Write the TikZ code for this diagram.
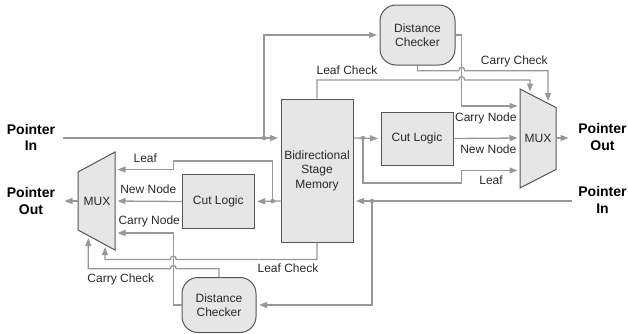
\documentclass[tikz,border=0pt]{standalone}
\usepackage{fontspec}
\setmainfont{Liberation Sans}
\usetikzlibrary{arrows.meta}
\definecolor{linec}{RGB}{152,152,152}
\definecolor{boxfill}{RGB}{230,230,230}
\definecolor{boxline}{RGB}{85,85,85}
\definecolor{txt}{RGB}{40,40,40}
\begin{document}
\begin{tikzpicture}[x=1pt,y=-1pt,
  box/.style={draw=boxline,fill=boxfill,line width=1pt,inner sep=0pt,align=center,font=\fontsize{12}{14.5}\selectfont,text=txt},
  rbox/.style={box,rounded corners=16pt},
  wire/.style={draw=linec,line width=1.3pt},
  arr/.style={wire,-{Triangle[length=8pt,width=6pt]},shorten >=2.5pt},
  lbl/.style={font=\fontsize{12}{14}\selectfont,text=txt,inner sep=0pt},
  ptr/.style={font=\fontsize{14}{16.5}\selectfont\bfseries,align=center,inner sep=0pt},
  dot/.style={circle,fill=linec,inner sep=0pt,minimum size=4.5pt},
  mux/.style={draw=boxline,fill=boxfill,line width=1pt},
]
\useasboundingbox (0,0) rectangle (628,333);

% ---- blocks
\node[box,minimum width=72pt,minimum height=143pt] (BSM) at (317,170.5) {Bidirectional\\Stage\\Memory};
\node[box,minimum width=72pt,minimum height=53pt] (CL1) at (417,138.5) {Cut Logic};
\node[box,minimum width=71.5pt,minimum height=54pt] (CL2) at (218.3,201.5) {Cut Logic};
\node[rbox,minimum width=75pt,minimum height=60pt] (DC1) at (417.5,35) {Distance\\Checker};
\node[rbox,minimum width=74pt,minimum height=55pt] (DC2) at (219,305) {Distance\\Checker};

\draw[mux] (520,89) -- (556,107.5) -- (556,169.5) -- (520,188) -- cycle;
\node[lbl] (MUX1) at (538,138.5) {MUX};
\draw[mux] (115,152) -- (115,250) -- (78,230) -- (78,172) -- cycle;
\node[lbl] (MUX2) at (97,201) {MUX};

% ---- terminals
\node[ptr] (pinL) at (31,137.5) {Pointer\\In};
\node[ptr] (poutL) at (31,201) {Pointer\\Out};
\node[ptr] (poutR) at (602.5,137) {Pointer\\Out};
\node[ptr] (pinR) at (602.5,200) {Pointer\\In};

\coordinate (pinLs) at (62.7,138);
\coordinate (pinRs) at (572,201);
\coordinate (po1) at (571,138);
\coordinate (po2) at (62,201);
\coordinate (m1a) at (530,94);
\coordinate (m1b) at (548,103.5);
\coordinate (m1cn) at (520,106);
\coordinate (m1nn) at (520,138);
\coordinate (m1lf) at (520,170.5);
\coordinate (m1out) at (556,138);
\coordinate (m2lf) at (115,169.5);
\coordinate (m2nn) at (115,201);
\coordinate (m2cn) at (115,233);
\coordinate (m2a) at (105,244.6);
\coordinate (m2b) at (88.3,235.6);
\coordinate (m2out) at (78,201);

\node[dot] (d1) at (264,138) {};
\node[dot] (d2) at (363,138) {};
\node[dot] (d3) at (372,201) {};
\node[dot] (d4) at (272.7,201) {};

% ---- upper path
\draw[arr] (pinLs) -- (BSM.west |- pinLs);
\draw[arr] (d1) |- (DC1.west);
\draw[arr] (BSM.north) -- (317,80) -- (458.7,80) .. controls (458.7,75.5) and (464.7,75.5) .. (464.7,80) -- (530,80) -- (m1a);
\draw[arr] (DC1.south) -- (417.5,70.7) -- (458.7,70.7) .. controls (458.7,66.2) and (464.7,66.2) .. (464.7,70.7) -- (548,70.7) -- (m1b);
\draw[arr] (DC1.east) -- (461.7,35) -- (461.7,106) -- (m1cn);
\draw[arr] (BSM.east |- d2) -- (CL1.west);
\draw[arr] (d2) -- (363,183) -- (461.7,183) -- (461.7,170.5) -- (m1lf);
\draw[arr] (CL1.east) -- (m1nn);
\draw[arr] (m1out) -- (po1);

\node[lbl] at (347,70) {Leaf Check};
\node[lbl] at (514.3,61) {Carry Check};
\node[lbl] at (485.8,118.3) {Carry Node};
\node[lbl] at (488.3,149) {New Node};
\node[lbl] at (491,180) {Leaf};

% ---- lower path
\draw[arr] (pinRs) -- (BSM.east |- pinRs);
\draw[arr] (d3) |- (DC2.east);
\draw[arr] (BSM.west |- d4) -- (CL2.east);
\draw[arr] (d4) -- (272.7,161) -- (173.3,161) -- (173.3,169.5) -- (m2lf);
\draw[arr] (CL2.west) -- (m2nn);
\draw[arr] (DC2.west) -- (173.3,305) -- (173.3,233) -- (m2cn);
\draw[arr] (BSM.south) -- (317,259.5) -- (176.3,259.5) .. controls (176.3,255) and (170.3,255) .. (170.3,259.5) -- (105,259.5) -- (m2a);
\draw[arr] (DC2.north) -- (219,268.8) -- (176.3,268.8) .. controls (176.3,264.3) and (170.3,264.3) .. (170.3,268.8) -- (88.3,268.8) -- (m2b);
\draw[arr] (m2out) -- (po2);

\node[lbl] at (145.3,158.3) {Leaf};
\node[lbl] at (148.3,189.3) {New Node};
\node[lbl] at (149.2,221) {Carry Node};
\node[lbl] at (288,268.3) {Leaf Check};
\node[lbl] at (120.8,279.3) {Carry Check};
\end{tikzpicture}
\end{document}
